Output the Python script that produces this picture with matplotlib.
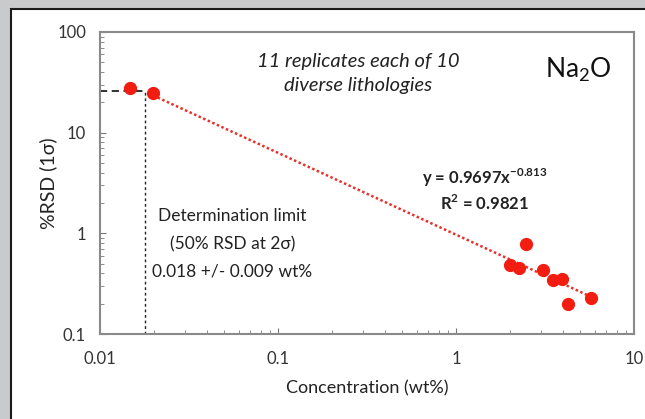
import numpy as np
import matplotlib.pyplot as plt
from matplotlib.patches import Rectangle

plt.rcParams['font.family'] = ['Lato', 'DejaVu Sans']
plt.rcParams['mathtext.fontset'] = 'custom'
plt.rcParams['mathtext.rm'] = 'Lato'
plt.rcParams['mathtext.bf'] = 'Lato:bold'

# Na2O replicate precision, 10 lithologies
conc = [0.0147, 0.0199, 2.46, 2.01, 2.26, 3.09, 3.49, 3.93, 4.27, 5.73]
rsd = [27.9, 24.9, 0.79, 0.48, 0.45, 0.43, 0.34, 0.35, 0.20, 0.23]

# power-law trendline y = a * x^b
fit_a = 0.9697
fit_b = -0.813
fit_x = [0.0199, 5.73]

# determination limit
det_x = 0.018
det_y = 26

fig = plt.figure(figsize=(6.45, 4.19), dpi=100, facecolor='#c9cacc')
fig.patches.append(Rectangle((11 / 645, -0.01), 1.0, 1 - 9 / 419 + 0.01,
                             transform=fig.transFigure, facecolor='white',
                             edgecolor='#1a1a1a', linewidth=1.5, zorder=-5))

ax = fig.add_axes([100 / 645, 85 / 419, 534 / 645, 302 / 419])
ax.set_facecolor('none')
ax.set_xscale('log')
ax.set_yscale('log')
ax.set_xlim(0.01, 10)
ax.set_ylim(0.1, 100)

fx = np.array(fit_x)
ax.plot(fx, fit_a * fx ** fit_b, color='#e8302a', linestyle=(0, (1, 1)), linewidth=1.8, zorder=2)
ax.plot(conc, rsd, 'o', color='#f21d10', markersize=8.5, zorder=3)

ax.plot([0.01, det_x], [det_y, det_y], color='#222222', linestyle=(0, (4, 2.5)), linewidth=1.3, zorder=1)
ax.plot([det_x, det_x], [0.1, det_y], color='#222222', linestyle=(0, (2, 2)), linewidth=1.0, zorder=1)

ax.set_xticks([0.01, 0.1, 1, 10])
ax.set_xticklabels(['0.01', '0.1', '1', '10'])
ax.set_yticks([0.1, 1, 10, 100])
ax.set_yticklabels(['0.1', '1', '10', '100'])
ax.tick_params(which='both', direction='in', color='#777777', labelcolor='#333333', labelsize=12)
ax.tick_params(which='major', length=4)
ax.tick_params(which='minor', length=3)
ax.tick_params(axis='x', which='major', pad=12)
ax.tick_params(axis='y', which='major', pad=10)
for s in ax.spines.values():
    s.set_color('#8a8a8a')
    s.set_linewidth(1.5)

ax.set_xlabel('Concentration (wt%)', fontsize=13, color='#222222')
ax.set_ylabel('%RSD (1σ)', fontsize=14, color='#222222', va='center')
ax.xaxis.set_label_coords(0.5, -0.152)
ax.yaxis.set_label_coords(-0.097, 0.5)

ax.text(0.483, 0.864, '11 replicates each of 10\ndiverse lithologies', transform=ax.transAxes,
        ha='center', va='center', style='italic', fontsize=14.5, color='#222222', linespacing=1.5)
ax.text(0.895, 0.875, r'Na$_2$O', transform=ax.transAxes, ha='center', va='center',
        fontsize=19, color='#111111')
ax.text(0.72, 0.517, r'y = 0.9697x$^{\mathbf{-0.813}}$', transform=ax.transAxes,
        ha='center', va='center', fontsize=12, fontweight='bold', color='#222222')
ax.text(0.72, 0.434, r'R$^{\mathbf{2}}$ = 0.9821', transform=ax.transAxes,
        ha='center', va='center', fontsize=12, fontweight='bold', color='#222222')
ax.text(0.248, 0.298, 'Determination limit\n(50% RSD at 2σ)\n0.018 +/- 0.009 wt%',
        transform=ax.transAxes, ha='center', va='center', fontsize=12.5, color='#222222',
        linespacing=1.9)

fig.savefig('out.png', dpi=100, facecolor=fig.get_facecolor())
